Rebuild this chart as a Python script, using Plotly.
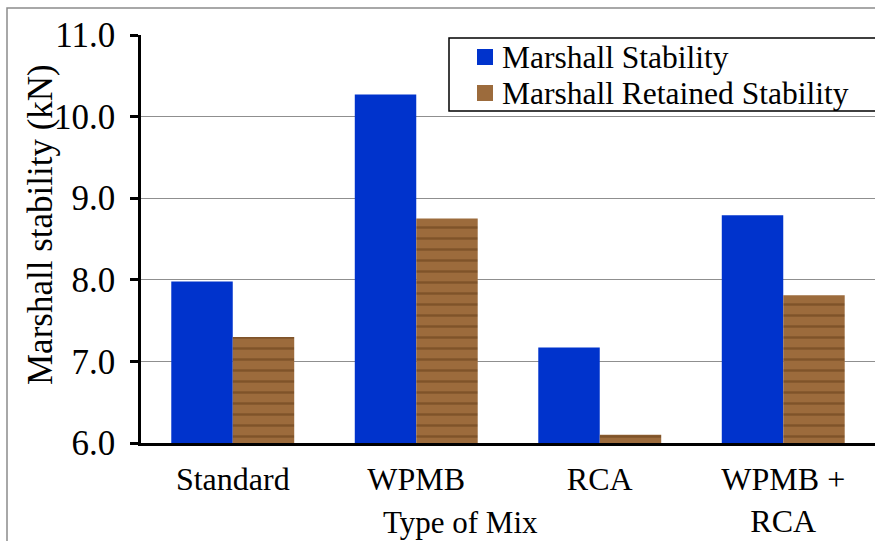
import plotly.graph_objects as go

# Marshall test results per mix type (kN)
categories = ["Standard", "WPMB", "RCA", "WPMB +<br>RCA"]
marshall_stability = [7.98, 10.27, 7.17, 8.79]
retained_stability = [7.30, 8.75, 6.10, 7.81]
y_ticks = [6.0, 7.0, 8.0, 9.0, 10.0, 11.0]
series_names = ["Marshall Stability", "Marshall Retained Stability"]
series_colors = ["#0033cc", "#9c6b3c"]

FONT = "Liberation Serif"
W, H = 875, 541
L, R, T, B = 141, 0, 35, 98
PW, PH = W - L - R, H - T - B


def px_x(x):
    return (x - L) / PW


def px_y(y):
    return (H - B - y) / PH


fig = go.Figure()
fig.add_trace(go.Bar(
    name=series_names[0],
    x=categories, y=marshall_stability,
    marker=dict(color=series_colors[0], line=dict(width=0)),
))
fig.add_trace(go.Bar(
    name=series_names[1],
    x=categories, y=retained_stability,
    marker=dict(
        color=series_colors[1],
        line=dict(width=0),
        pattern=dict(shape="-", fgcolor="#5a3410", fgopacity=0.45,
                     size=11, solidity=0.22),
    ),
))

fig.update_layout(
    width=W, height=H,
    margin=dict(l=L, r=R, t=T, b=B, pad=0),
    paper_bgcolor="white", plot_bgcolor="white",
    font=dict(family=FONT, size=30, color="black"),
    barmode="group", bargap=0.33, bargroupgap=0,
    showlegend=False,
    xaxis=dict(
        showgrid=False, showline=True, linecolor="black", linewidth=2.5,
        ticks="", tickfont=dict(family=FONT, size=32), ticklabelstandoff=6,
    ),
    yaxis=dict(
        range=[6, 11], tickvals=y_ticks, tickformat=".1f",
        showgrid=True, gridcolor="#8f8f8f", gridwidth=1.4,
        showline=True, linecolor="black", linewidth=2.5,
        ticks="outside", ticklen=8, tickwidth=2.5, tickcolor="black",
        tickfont=dict(family=FONT, size=35), zeroline=False,
        ticklabelstandoff=8,
    ),
)

# axis titles
fig.add_annotation(
    text="Marshall stability (kN)", textangle=-90,
    xref="paper", yref="paper", x=px_x(40), y=px_y(225),
    xanchor="center", yanchor="middle",
    showarrow=False, font=dict(family=FONT, size=35),
)
fig.add_annotation(
    text="Type of Mix",
    xref="paper", yref="paper", x=px_x(460), y=px_y(522),
    xanchor="center", yanchor="middle",
    showarrow=False, font=dict(family=FONT, size=31),
)

# legend box with swatches and labels
fig.add_shape(
    type="rect", xref="paper", yref="paper",
    x0=px_x(449), x1=px_x(W + 20), y0=px_y(111), y1=px_y(38),
    line=dict(color="black", width=1.5), fillcolor="white", layer="above",
)
for i, (name, color) in enumerate(zip(series_names, series_colors)):
    cy = 57 + 36 * i
    fig.add_shape(
        type="rect", xref="paper", yref="paper",
        x0=px_x(477), x1=px_x(493), y0=px_y(cy + 8), y1=px_y(cy - 8),
        line=dict(width=0), fillcolor=color, layer="above",
    )
    fig.add_annotation(
        text=name, xref="paper", yref="paper",
        x=px_x(500), y=px_y(cy), xanchor="left", yanchor="middle",
        showarrow=False, font=dict(family=FONT, size=31.5),
    )

# chart frame
fig.add_shape(
    type="rect", xref="paper", yref="paper",
    x0=px_x(7), x1=px_x(W + 40), y0=px_y(H + 40), y1=px_y(8),
    line=dict(color="#8c8c8c", width=1.5), fillcolor="rgba(0,0,0,0)",
    layer="below",
)

fig.write_html("out.html")
